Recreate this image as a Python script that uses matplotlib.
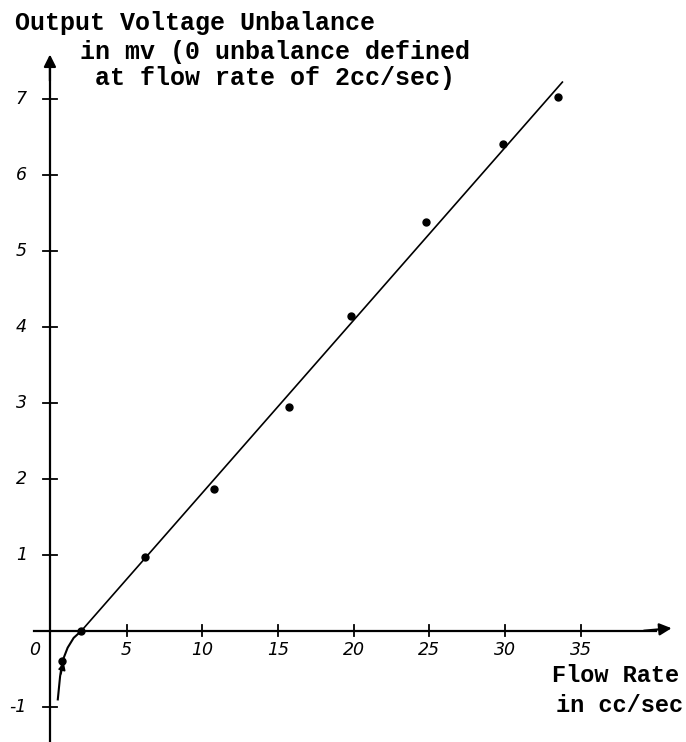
import matplotlib
matplotlib.use("Agg")
import matplotlib.pyplot as plt

# measured points (flow rate cc/sec, unbalance mV)
flow = [0.75, 2.0, 6.2, 10.8, 15.7, 19.8, 24.8, 29.9, 33.5]
unbalance = [-0.4, 0.0, 0.97, 1.87, 2.95, 4.15, 5.38, 6.4, 7.02]

# hand drawn curve near zero flow and the straight fit line
curve_x = [0.45, 0.6, 0.75, 1.1, 1.5, 2.0]
curve_y = [-0.9, -0.6, -0.4, -0.22, -0.09, 0.0]
fit_x = [2.0, 33.8]
fit_y = [0.0, 7.22]

x_ticks = [5, 10, 15, 20, 25, 30, 35]
y_ticks = [-1, 1, 2, 3, 4, 5, 6, 7]

mono = "Liberation Mono"

fig = plt.figure(figsize=(6.86, 7.42), dpi=100)
ax = fig.add_axes([0, 0, 1, 1])
ax.set_xlim(-3.37, 41.97)
ax.set_ylim(-1.46, 8.30)
ax.axis("off")

# axes drawn by hand style
ax.plot([-0.07, -0.07], [-1.46, 7.45], color="black", lw=1.6)
ax.annotate("", xy=(-0.07, 7.62), xytext=(-0.07, 7.2),
            arrowprops=dict(arrowstyle="-|>", color="black", lw=1.6,
                            mutation_scale=18))
ax.plot([-1.1, 40.0], [0, 0], color="black", lw=1.6)
ax.annotate("", xy=(41.2, 0.04), xytext=(39.0, 0.0),
            arrowprops=dict(arrowstyle="-|>", color="black", lw=1.6,
                            mutation_scale=18))

for t in x_ticks:
    ax.plot([t, t], [-0.06, 0.08], color="black", lw=1.3)
    ax.text(t, -0.25, str(t), ha="center", va="center", fontsize=12.5,
            style="italic")
for t in y_ticks:
    ax.plot([-0.5, 0.4], [t, t], color="black", lw=1.3)
    ax.text(-1.6, t, str(t), ha="right", va="center", fontsize=12.5,
            style="italic")
ax.text(-1.05, -0.25, "0", ha="center", va="center", fontsize=12.5, style="italic")

ax.plot(fit_x, fit_y, color="black", lw=1.2)
ax.plot(curve_x, curve_y, color="black", lw=1.5)
ax.annotate("", xy=(0.9, -0.38), xytext=(0.6, -0.6),
            arrowprops=dict(arrowstyle="-|>", color="black", lw=1.3,
                            mutation_scale=10))
ax.plot(flow, unbalance, "o", color="black", markersize=5)

ax.text(-2.35, 8.0, "Output Voltage Unbalance", fontsize=18, family=mono,
        weight="bold", va="center", ha="left")
ax.text(1.9, 7.62, "in mv (0 unbalance defined", fontsize=18, family=mono,
        weight="bold", va="center", ha="left")
ax.text(2.9, 7.27, "at flow rate of 2cc/sec)", fontsize=18, family=mono,
        weight="bold", va="center", ha="left")

ax.text(41.5, -0.59, "Flow Rate", fontsize=17, family=mono, weight="bold",
        va="center", ha="right")
ax.text(41.8, -0.98, "in cc/sec", fontsize=17, family=mono, weight="bold",
        va="center", ha="right")

fig.savefig("out.png", dpi=100)
